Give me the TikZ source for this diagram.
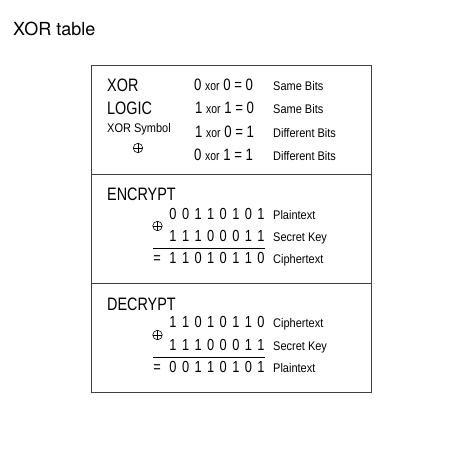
\documentclass[tikz,border=0pt]{standalone}
\usepackage{fontspec}
\setmainfont{Liberation Sans}[FakeStretch=0.8]
\newfontfamily\labfont{Liberation Sans}[FakeStretch=0.88]
\newfontfamily\titlefont{TeX Gyre Heros}
% one row of bits, digit by digit
\newcommand\bitrow[3]{%
  \foreach \b [count=\i from 0] in {#3}
    \node[bit] (#1-\i) at ({173+12.57*\i},#2) {\b};}
\begin{document}
\begin{tikzpicture}[x=1pt,y=-1pt,
    big/.style={anchor=base west,inner sep=0pt,font=\fontsize{18}{20}\selectfont},
    eqn/.style={anchor=base west,inner sep=0pt,font=\fontsize{16.5}{18}\selectfont},
    lab/.style={anchor=base west,inner sep=0pt,font=\labfont\fontsize{12.5}{14}\selectfont},
    bit/.style={anchor=base,inner sep=0pt,font=\fontsize{16}{18}\selectfont},
    xorsym/.style={circle,draw,line width=0.6pt,minimum size=9.5pt,inner sep=0pt,
      path picture={\draw[line width=0.6pt]
        (path picture bounding box.north) -- (path picture bounding box.south)
        (path picture bounding box.west) -- (path picture bounding box.east);}},
    frame/.style={line width=1pt,black!75}]
  \useasboundingbox (0,0) rectangle (466,456);

  \node[anchor=base west,inner sep=0pt,font=\titlefont\fontsize{18}{20}\selectfont] (title) at (13,35) {XOR table};

  % box and dividers
  \coordinate (tl) at (91,65);
  \coordinate (br) at (371.5,392);
  \draw[frame] (tl) rectangle (br);
  \draw[frame] (91,174) -- (371.5,174);
  \draw[frame] (91,283) -- (371.5,283);

  % logic part
  \node[big] (xor) at (107,91) {XOR};
  \node[big] (logic) at (107,114) {LOGIC};
  \node[lab] (symbol) at (107,132) {XOR Symbol};
  \node[xorsym] (oplus) at (138,148) {};

  \node[eqn] (r1) at (194,90) {0 {\fontsize{13}{14}\selectfont xor} 0 = 0};
  \node[eqn] (r2) at (195,113) {1 {\fontsize{13}{14}\selectfont xor} 1 = 0};
  \node[eqn] (r3) at (195,137) {1 {\fontsize{13}{14}\selectfont xor} 0 = 1};
  \node[eqn] (r4) at (194,160) {0 {\fontsize{13}{14}\selectfont xor} 1 = 1};
  \node[lab] (l1) at (273,90) {Same Bits};
  \node[lab] (l2) at (273,113) {Same Bits};
  \node[lab] (l3) at (273,137) {Different Bits};
  \node[lab] (l4) at (273,160) {Different Bits};

  % encrypt
  \node[big] (enc) at (107,200) {ENCRYPT};
  \node[xorsym] (eplus) at (157.5,226) {};
  \bitrow{ep}{219}{0,0,1,1,0,1,0,1}
  \bitrow{ek}{241.5}{1,1,1,0,0,0,1,1}
  \bitrow{ec}{263.5}{1,1,0,1,0,1,1,0}
  \node[bit] (eeq) at (157,263.5) {=};
  \draw[line width=0.8pt] (153,248) -- (265,248);
  \node[lab] (ept) at (273,219) {Plaintext};
  \node[lab] (ekey) at (273,241.5) {Secret Key};
  \node[lab] (ect) at (273,263.5) {Ciphertext};

  % decrypt
  \node[big] (dec) at (107,310) {DECRYPT};
  \node[xorsym] (dplus) at (157.5,335) {};
  \bitrow{dc}{327}{1,1,0,1,0,1,1,0}
  \bitrow{dk}{350}{1,1,1,0,0,0,1,1}
  \bitrow{dp}{372}{0,0,1,1,0,1,0,1}
  \node[bit] (deq) at (157,372) {=};
  \draw[line width=0.8pt] (153,357) -- (265,357);
  \node[lab] (dct) at (273,327) {Ciphertext};
  \node[lab] (dkey) at (273,350) {Secret Key};
  \node[lab] (dpt) at (273,372) {Plaintext};
\end{tikzpicture}
\end{document}
